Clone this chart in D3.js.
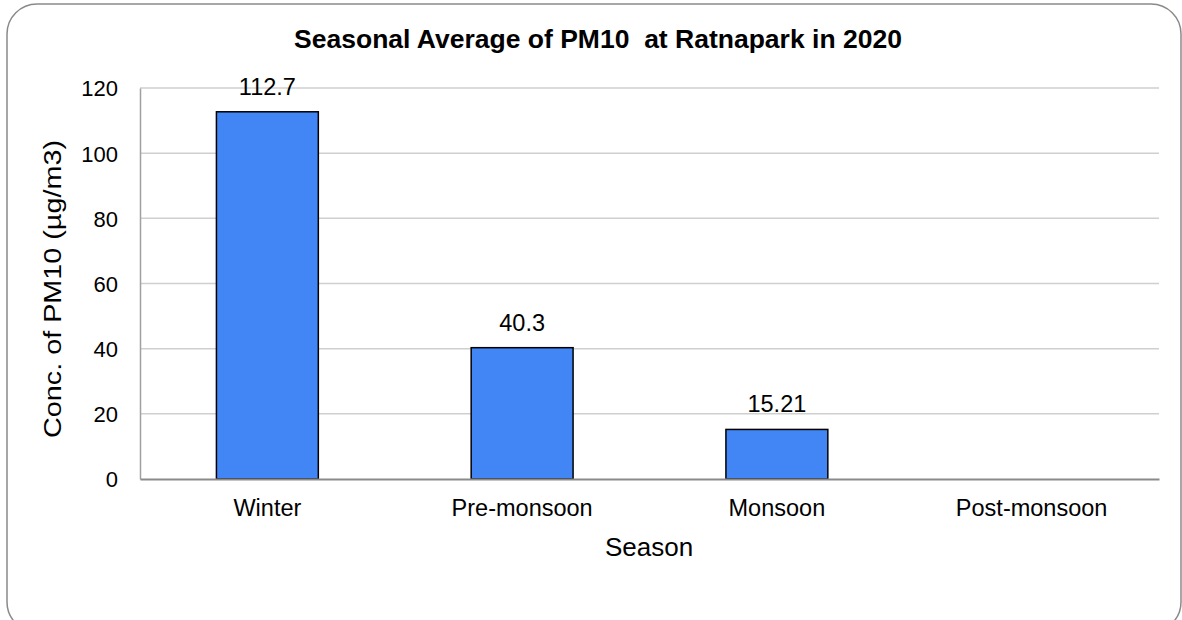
<!DOCTYPE html>
<html lang="en">
<head>
<meta charset="UTF-8">
<title>Seasonal Average of PM10 at Ratnapark in 2020</title>
<script src="https://d3js.org/d3.v7.min.js"></script>
<style>
  body { margin: 0; background: #fff; }
  text { font-family: "Liberation Sans", Arial, sans-serif; fill: #000; }
</style>
</head>
<body>
<div id="chart"></div>
<script>
const width = 1182;
const height = 620;

// data
const seasons = ["Winter", "Pre-monsoon", "Monsoon", "Post-monsoon"];
const pm10 = [112.7, 40.3, 15.21, null];
const valueLabels = ["112.7", "40.3", "15.21", ""];
const yTicks = [0, 20, 40, 60, 80, 100, 120];

const margin = {top: 88, right: 23, bottom: 141, left: 140};

const svg = d3.select("#chart").append("svg")
    .attr("width", width)
    .attr("height", height);

// outer frame
svg.append("rect")
    .attr("x", 7).attr("y", 4)
    .attr("width", 1174).attr("height", 628)
    .attr("rx", 30).attr("ry", 30)
    .attr("fill", "none")
    .attr("stroke", "#8a8a8a")
    .attr("stroke-width", 1.5);

const x = d3.scaleBand()
    .domain(seasons)
    .range([margin.left, width - margin.right])
    .paddingInner(0.6)
    .paddingOuter(0.3);

const y = d3.scaleLinear()
    .domain([0, 120])
    .range([height - margin.bottom, margin.top]);

// gridlines
svg.append("g")
    .selectAll("line")
    .data(yTicks.filter(d => d > 0))
    .enter().append("line")
    .attr("x1", margin.left)
    .attr("x2", width - margin.right)
    .attr("y1", d => y(d))
    .attr("y2", d => y(d))
    .attr("stroke", "#cfcfcf")
    .attr("stroke-width", 1.5);

// y axis
const yAxis = svg.append("g")
    .attr("transform", "translate(" + margin.left + ",0)")
    .call(d3.axisLeft(y).tickValues(yTicks).tickSize(0).tickPadding(22));
yAxis.select(".domain").attr("stroke", "#a0a0a0").attr("stroke-width", 1.5);
yAxis.selectAll("text")
    .style("font-family", "'Liberation Sans', Arial, sans-serif")
    .style("font-size", "22px")
    .attr("dy", "0.36em");

const rows = seasons.map((s, i) => ({season: s, value: pm10[i], label: valueLabels[i]}))
    .filter(d => d.value != null);

// bars
svg.append("g")
    .selectAll("rect")
    .data(rows)
    .enter().append("rect")
    .attr("x", d => x(d.season))
    .attr("y", d => y(d.value))
    .attr("width", x.bandwidth())
    .attr("height", d => y(0) - y(d.value))
    .attr("fill", "#4285f4")
    .attr("stroke", "#000")
    .attr("stroke-width", 1.5);

// x axis
const xAxis = svg.append("g")
    .attr("transform", "translate(0," + y(0) + ")")
    .call(d3.axisBottom(x).tickSize(0).tickPadding(20));
xAxis.select(".domain").attr("stroke", "#8a8a8a").attr("stroke-width", 2);
xAxis.selectAll("text")
    .style("font-family", "'Liberation Sans', Arial, sans-serif")
    .style("font-size", "23.5px");

// value labels
svg.append("g")
    .selectAll("text")
    .data(rows)
    .enter().append("text")
    .attr("x", d => x(d.season) + x.bandwidth() / 2)
    .attr("y", d => y(d.value) - 17)
    .attr("text-anchor", "middle")
    .style("font-size", "23.5px")
    .text(d => d.label);

// title
svg.append("text")
    .attr("x", 598)
    .attr("y", 48)
    .attr("text-anchor", "middle")
    .style("font-size", "26.5px")
    .style("font-weight", "bold")
    .attr("xml:space", "preserve")
    .text("Seasonal Average of PM10  at Ratnapark in 2020");

// axis titles
svg.append("text")
    .attr("x", 649)
    .attr("y", 556)
    .attr("text-anchor", "middle")
    .style("font-size", "26px")
    .text("Season");

svg.append("text")
    .attr("transform", "translate(61,289) rotate(-90)")
    .attr("text-anchor", "middle")
    .attr("textLength", 298)
    .attr("lengthAdjust", "spacingAndGlyphs")
    .style("font-size", "23px")
    .text("Conc. of PM10 (µg/m3)");
</script>
</body>
</html>
